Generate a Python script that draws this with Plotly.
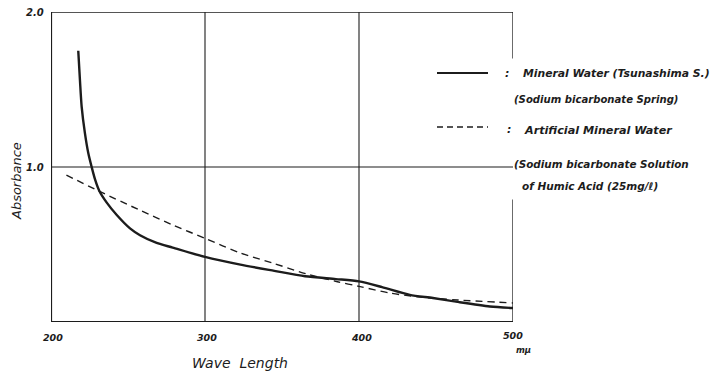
import plotly.graph_objects as go

# Absorption spectra: wavelength (m\u03bc) vs absorbance
wl_mineral = [217.7, 218.8, 219.9, 222, 224.2, 226.4, 228.6, 231.4, 236.2, 242.7, 251.3,
              257.8, 268.6, 279, 300, 323, 345, 365, 385, 400, 415, 433, 448, 465, 485, 500]
abs_mineral = [1.75, 1.56, 1.39, 1.22, 1.09, 1.0, 0.92, 0.845, 0.77, 0.69, 0.604,
               0.56, 0.51, 0.48, 0.42, 0.37, 0.33, 0.295, 0.277, 0.262, 0.225, 0.175,
               0.155, 0.128, 0.10, 0.09]

wl_artificial = [210, 230, 258, 279, 300, 323, 344, 366, 386, 400, 420, 438, 464, 500]
abs_artificial = [0.948, 0.85, 0.72, 0.626, 0.54, 0.445, 0.38, 0.31, 0.26, 0.23,
                  0.187, 0.163, 0.142, 0.123]

x_ticks = [200, 300, 400, 500]
y_ticks = [1.0, 2.0]
y_tick_text = ["1.0", "2.0"]

W, H = 719, 374
L, R, T, B = 51, 513, 12, 322
INK = "#1c1c1c"
FONT = "DejaVu Sans"


def px(xp):
    return (xp - L) / (R - L)


def py(yp):
    return (B - yp) / (B - T)


fig = go.Figure()
fig.add_trace(go.Scatter(x=wl_mineral, y=abs_mineral, mode="lines",
                         line=dict(color=INK, width=2.4, shape="spline", smoothing=0.7),
                         showlegend=False, hoverinfo="skip"))
fig.add_trace(go.Scatter(x=wl_artificial, y=abs_artificial, mode="lines",
                         line=dict(color=INK, width=1.4, dash="7px,5px", shape="spline", smoothing=0.8),
                         showlegend=False, hoverinfo="skip"))

shapes = []
# grid lines
for xv in [300, 400]:
    shapes.append(dict(type="line", xref="x", yref="y", x0=xv, x1=xv, y0=0, y1=2,
                       line=dict(color=INK, width=1.1)))
shapes.append(dict(type="line", xref="x", yref="y", x0=200, x1=500, y0=1, y1=1,
                   line=dict(color=INK, width=1.1)))
# frame: heavy left/bottom, light top, right side broken by the key text
shapes.append(dict(type="line", xref="x", yref="y", x0=200, x1=200, y0=0, y1=2,
                   line=dict(color=INK, width=2.2)))
shapes.append(dict(type="line", xref="x", yref="y", x0=200, x1=500, y0=0, y1=0,
                   line=dict(color=INK, width=2.2)))
shapes.append(dict(type="line", xref="x", yref="y", x0=200, x1=500, y0=2, y1=2,
                   line=dict(color=INK, width=1.4)))
shapes.append(dict(type="line", xref="x", yref="y", x0=500, x1=500, y0=1.70, y1=2,
                   line=dict(color=INK, width=1.3)))
shapes.append(dict(type="line", xref="x", yref="y", x0=500, x1=500, y0=0, y1=0.79,
                   line=dict(color=INK, width=1.3)))
# key line samples
shapes.append(dict(type="line", xref="paper", yref="paper", x0=px(437), x1=px(488),
                   y0=py(73), y1=py(73), line=dict(color=INK, width=2.2)))
shapes.append(dict(type="line", xref="paper", yref="paper", x0=px(437), x1=px(488),
                   y0=py(127), y1=py(127), line=dict(color=INK, width=1.3, dash="6px,4px")))

ann = []


def text(s, x, y, size=10.5, xa="left", ya="middle", bold=False, angle=0):
    ann.append(dict(text=s, xref="paper", yref="paper", x=px(x), y=py(y),
                    xanchor=xa, yanchor=ya, showarrow=False, textangle=angle,
                    font=dict(family=FONT, size=size, color=INK, style="italic",
                              weight="bold" if bold else "normal")))


# tick labels
for v, t in zip(y_ticks, y_tick_text):
    text(t, 46, B - v / 2 * (B - T) + 1, size=10, xa="right", bold=True)
for v in x_ticks:
    xp = L + (v - 200) / 300 * (R - L)
    text(str(v), xp + (2 if v < 500 else 0), 337 if v < 500 else 335, size=9.5,
         xa="center", bold=True)
text("m\u03bc", 523, 350, size=8.5, xa="center", bold=True)
text("Wave  Length", 240, 363, size=14, xa="center")
text("Absorbance", 16, 181, size=13, xa="center", angle=-90)

# key text
text(":", 503, 73, size=11, bold=True)
text("Mineral Water (Tsunashima S.)", 521, 73, size=10.8, bold=True)
text("(Sodium bicarbonate Spring)", 512, 100, size=10.1, bold=True)
text(":", 505, 129, size=11, bold=True)
text("Artificial Mineral Water", 522, 130, size=11.2, bold=True)
text("(Sodium bicarbonate Solution", 512, 164, size=10.4, bold=True)
text("of Humic Acid (25mg/\u2113)", 520, 186, size=10.5, bold=True)

fig.update_layout(
    width=W, height=H,
    margin=dict(l=L, r=W - R, t=T, b=H - B, pad=0),
    paper_bgcolor="white", plot_bgcolor="white",
    xaxis=dict(range=[200, 500], showgrid=False, zeroline=False, showline=False,
               showticklabels=False, ticks=""),
    yaxis=dict(range=[0, 2], showgrid=False, zeroline=False, showline=False,
               showticklabels=False, ticks=""),
    shapes=shapes, annotations=ann, showlegend=False,
)

fig.write_html("out.html")
